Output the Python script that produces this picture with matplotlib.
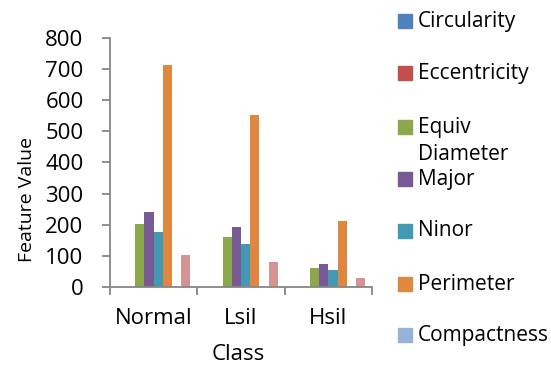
import numpy as np
import matplotlib.pyplot as plt
from matplotlib.patches import Rectangle

classes = ['Normal', 'Lsil', 'Hsil']
series = ['Circularity', 'Eccentricity', 'Equiv\nDiameter', 'Major', 'Ninor',
          'Perimeter', 'Compactness', 'Extra']
circularity = [0.8, 0.8, 0.8]
eccentricity = [0.7, 0.7, 0.7]
equiv_diameter = [201, 160, 62]
major = [240, 192, 73]
ninor = [177, 138, 55]
perimeter = [714, 552, 212]
compactness = [1.2, 1.2, 1.2]
extra = [103, 80, 30]
values = [circularity, eccentricity, equiv_diameter, major, ninor,
          perimeter, compactness, extra]
colors = ['#4F81BD', '#C0504D', '#8BA84D', '#775A93', '#4399B4',
          '#E0873F', '#95B3D7', '#D49494']

plt.rcParams['font.family'] = ['Open Sans', 'DejaVu Sans']

fig = plt.figure(figsize=(5.51, 3.65), dpi=100)
ax = fig.add_axes([0.1996, 0.2137, 0.4755, 0.6822])

n = len(series)
w = 1.0 / (n + 1.5)
x0 = np.arange(len(classes))
for i, (vals, c) in enumerate(zip(values, colors)):
    ax.bar(x0 + 0.75 * w + w * (i + 0.5), vals, width=w, color=c,
           align='center', edgecolor='none')

ax.set_xlim(0, 3)
ax.set_ylim(0, 800)
ax.set_yticks(range(0, 801, 100))
ax.set_xticks([0, 1, 2, 3])
ax.set_xticklabels([])
ax.set_xticks(x0 + 0.5, minor=True)
ax.set_xticklabels(classes, minor=True)
ax.tick_params(axis='x', which='minor', length=0, pad=15, labelsize=16)
ax.tick_params(axis='x', which='major', length=6, direction='out', color='#868686', width=1.3)
ax.tick_params(axis='y', length=6, direction='out', color='#868686', width=1.3,
               labelsize=16, pad=13)
for s in ['top', 'right']:
    ax.spines[s].set_visible(False)
for s in ['left', 'bottom']:
    ax.spines[s].set_color('#868686')
    ax.spines[s].set_linewidth(1.3)

fig.text(27 / 551, 1 - 200 / 365, 'Feature Value', fontsize=14, rotation=90,
         ha='center', va='center')
fig.text(238 / 551, 1 - 355 / 365, 'Class', fontsize=16, ha='center', va='center')

# legend drawn by hand (last series has no entry, as in the original)
legend_y = [21, 73, 127, 179, 231, 284, 335]
for name, c, y in zip(series[:7], colors[:7], legend_y):
    fig.add_artist(Rectangle((398 / 551, 1 - (y + 7) / 365), 14 / 551, 14 / 365,
                             transform=fig.transFigure, color=c))
    for k, line in enumerate(name.split('\n')):
        fig.text(418 / 551, 1 - (y + 28 * k) / 365, line, fontsize=15,
                 ha='left', va='center')

fig.savefig('out.png', dpi=100)
